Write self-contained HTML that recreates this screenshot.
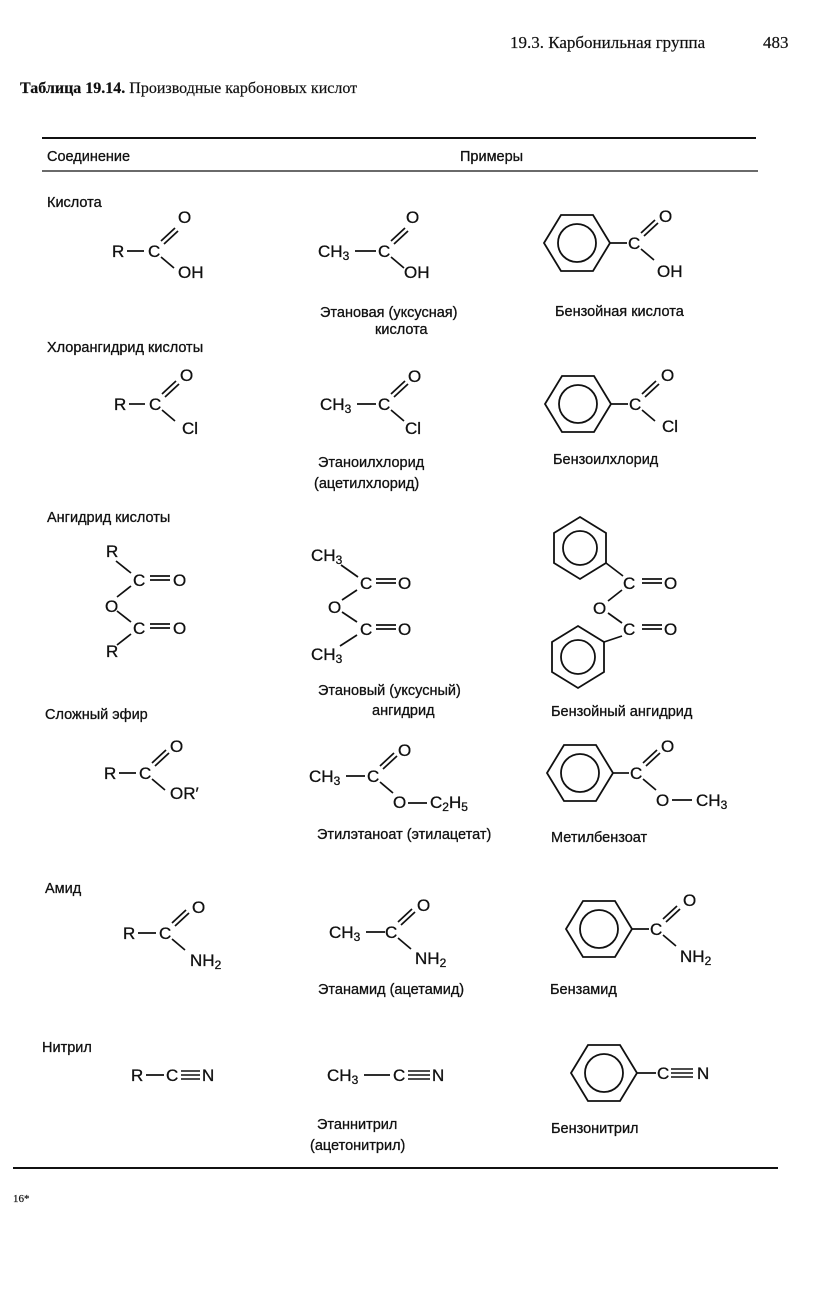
<!DOCTYPE html>
<html><head><meta charset="utf-8"><style>
html,body{margin:0;padding:0;background:#fff;}
svg{display:block;}
text{font-family:"Liberation Sans",sans-serif;fill:#111;stroke:#111;stroke-width:0.3;}
.a{font-size:17px;}
.l{font-size:14.5px;}
.s{font-family:"Liberation Serif",serif;stroke-width:0.2;}
</style></head><body>
<svg width="832" height="1300" viewBox="0 0 832 1300" xmlns="http://www.w3.org/2000/svg">
<defs>
<g id="hex" fill="none" stroke="#111" stroke-width="1.8">
<polygon points="-33,0 -16,-28 16,-28 33,0 16,28 -16,28"/>
<circle r="19"/>
</g>
<g id="hexv" fill="none" stroke="#111" stroke-width="1.8">
<polygon points="0,-31 26,-15 26,15 0,31 -26,15 -26,-15"/>
<circle r="17"/>
</g>
<g id="acyl" stroke="#111" stroke-width="1.7">
<line x1="6" y1="-9" x2="20" y2="-22"/>
<line x1="9" y1="-6" x2="23" y2="-19"/>
<line x1="6" y1="7" x2="19" y2="18"/>
</g>
</defs>

<text x="510" y="48" class="s" font-size="17">19.3. Карбонильная группа</text>
<text x="763" y="48" class="s" font-size="17">483</text>
<text x="20" y="93" class="s" font-size="16"><tspan font-weight="bold">Таблица 19.14.</tspan> Производные карбоновых кислот</text>

<line x1="42" y1="138" x2="756" y2="138" stroke="#111" stroke-width="2"/>
<text x="47" y="161" class="l">Соединение</text>
<text x="460" y="161" class="l">Примеры</text>
<line x1="42" y1="171" x2="758" y2="171" stroke="#111" stroke-width="1.3"/>

<text x="47" y="207" class="l">Кислота</text>
<text x="47" y="352" class="l">Хлорангидрид кислоты</text>
<text x="47" y="522" class="l">Ангидрид кислоты</text>
<text x="45" y="719" class="l">Сложный эфир</text>
<text x="45" y="893" class="l">Амид</text>
<text x="42" y="1052" class="l">Нитрил</text>

<!-- Row 1 -->
<text x="112" y="257" class="a">R</text><line x1="127" y1="251" x2="144" y2="251" stroke="#111" stroke-width="1.7"/>
<text x="148" y="257" class="a">C</text><use href="#acyl" x="155" y="250"/>
<text x="178" y="223" class="a">O</text><text x="178" y="278" class="a">OH</text>

<text x="318" y="257" class="a">CH<tspan font-size="12" dy="3">3</tspan></text><line x1="355" y1="251" x2="376" y2="251" stroke="#111" stroke-width="1.7"/>
<text x="378" y="257" class="a">C</text><use href="#acyl" x="385" y="250"/>
<text x="406" y="223" class="a">O</text><text x="404" y="278" class="a">OH</text>

<use href="#hex" x="577" y="243"/><line x1="610" y1="243" x2="627" y2="243" stroke="#111" stroke-width="1.7"/>
<text x="628" y="249" class="a">C</text><use href="#acyl" x="635" y="242"/>
<text x="659" y="222" class="a">O</text><text x="657" y="277" class="a">OH</text>

<text x="320" y="317" class="l">Этановая (уксусная)</text>
<text x="375" y="334" class="l">кислота</text>
<text x="555" y="316" class="l">Бензойная кислота</text>

<!-- Row 2 -->
<text x="114" y="410" class="a">R</text><line x1="129" y1="404" x2="145" y2="404" stroke="#111" stroke-width="1.7"/>
<text x="149" y="410" class="a">C</text><use href="#acyl" x="156" y="403"/>
<text x="180" y="381" class="a">O</text><text x="182" y="434" class="a">Cl</text>

<text x="320" y="410" class="a">CH<tspan font-size="12" dy="3">3</tspan></text><line x1="357" y1="404" x2="376" y2="404" stroke="#111" stroke-width="1.7"/>
<text x="378" y="410" class="a">C</text><use href="#acyl" x="385" y="403"/>
<text x="408" y="382" class="a">O</text><text x="405" y="434" class="a">Cl</text>

<use href="#hex" x="578" y="404"/><line x1="611" y1="404" x2="628" y2="404" stroke="#111" stroke-width="1.7"/>
<text x="629" y="410" class="a">C</text><use href="#acyl" x="636" y="403"/>
<text x="661" y="381" class="a">O</text><text x="662" y="432" class="a">Cl</text>

<text x="318" y="467" class="l">Этаноилхлорид</text>
<text x="314" y="488" class="l">(ацетилхлорид)</text>
<text x="553" y="464" class="l">Бензоилхлорид</text>

<!-- Row 3 -->
<g stroke="#111" stroke-width="1.7">
<line x1="116" y1="561" x2="131" y2="573"/><line x1="131" y1="586" x2="117" y2="597"/>
<line x1="117" y1="611" x2="131" y2="622"/><line x1="131" y1="634" x2="117" y2="645"/>
<line x1="150" y1="576" x2="170" y2="576"/><line x1="150" y1="580" x2="170" y2="580"/>
<line x1="150" y1="624" x2="170" y2="624"/><line x1="150" y1="628" x2="170" y2="628"/>
</g>
<text x="106" y="557" class="a">R</text><text x="133" y="586" class="a">C</text><text x="173" y="586" class="a">O</text>
<text x="105" y="612" class="a">O</text><text x="133" y="634" class="a">C</text><text x="173" y="634" class="a">O</text>
<text x="106" y="657" class="a">R</text>

<g stroke="#111" stroke-width="1.7">
<line x1="341" y1="565" x2="358" y2="577"/><line x1="357" y1="590" x2="342" y2="600"/>
<line x1="342" y1="612" x2="357" y2="622"/><line x1="357" y1="635" x2="340" y2="646"/>
<line x1="376" y1="579" x2="396" y2="579"/><line x1="376" y1="583" x2="396" y2="583"/>
<line x1="376" y1="625" x2="396" y2="625"/><line x1="376" y1="629" x2="396" y2="629"/>
</g>
<text x="311" y="561" class="a">CH<tspan font-size="12" dy="3">3</tspan></text>
<text x="360" y="589" class="a">C</text><text x="398" y="589" class="a">O</text>
<text x="328" y="613" class="a">O</text>
<text x="360" y="635" class="a">C</text><text x="398" y="635" class="a">O</text>
<text x="311" y="660" class="a">CH<tspan font-size="12" dy="3">3</tspan></text>

<use href="#hexv" x="580" y="548"/><use href="#hexv" x="578" y="657"/>
<g stroke="#111" stroke-width="1.7">
<line x1="606" y1="563" x2="623" y2="576"/><line x1="622" y1="590" x2="608" y2="601"/>
<line x1="608" y1="613" x2="622" y2="623"/><line x1="622" y1="636" x2="604" y2="642"/>
<line x1="642" y1="579" x2="662" y2="579"/><line x1="642" y1="583" x2="662" y2="583"/>
<line x1="642" y1="625" x2="662" y2="625"/><line x1="642" y1="629" x2="662" y2="629"/>
</g>
<text x="623" y="589" class="a">C</text><text x="664" y="589" class="a">O</text>
<text x="593" y="614" class="a">O</text>
<text x="623" y="635" class="a">C</text><text x="664" y="635" class="a">O</text>

<text x="318" y="695" class="l">Этановый (уксусный)</text>
<text x="372" y="715" class="l">ангидрид</text>
<text x="551" y="716" class="l">Бензойный ангидрид</text>

<!-- Row 4 -->
<text x="104" y="779" class="a">R</text><line x1="119" y1="773" x2="136" y2="773" stroke="#111" stroke-width="1.7"/>
<text x="139" y="779" class="a">C</text><use href="#acyl" x="146" y="772"/>
<text x="170" y="752" class="a">O</text><text x="170" y="799" class="a">OR′</text>

<text x="309" y="782" class="a">CH<tspan font-size="12" dy="3">3</tspan></text><line x1="346" y1="776" x2="365" y2="776" stroke="#111" stroke-width="1.7"/>
<text x="367" y="782" class="a">C</text><use href="#acyl" x="374" y="775"/>
<text x="398" y="756" class="a">O</text>
<text x="393" y="808" class="a">O</text><line x1="408" y1="803" x2="427" y2="803" stroke="#111" stroke-width="1.7"/>
<text x="430" y="808" class="a">C<tspan font-size="12" dy="3">2</tspan><tspan dy="-3">H</tspan><tspan font-size="12" dy="3">5</tspan></text>

<use href="#hex" x="580" y="773"/><line x1="613" y1="773" x2="629" y2="773" stroke="#111" stroke-width="1.7"/>
<text x="630" y="779" class="a">C</text><use href="#acyl" x="637" y="772"/>
<text x="661" y="752" class="a">O</text>
<text x="656" y="806" class="a">O</text><line x1="672" y1="800" x2="692" y2="800" stroke="#111" stroke-width="1.7"/>
<text x="696" y="806" class="a">CH<tspan font-size="12" dy="3">3</tspan></text>

<text x="317" y="839" class="l">Этилэтаноат (этилацетат)</text>
<text x="551" y="842" class="l">Метилбензоат</text>

<!-- Row 5 -->
<text x="123" y="939" class="a">R</text><line x1="138" y1="933" x2="156" y2="933" stroke="#111" stroke-width="1.7"/>
<text x="159" y="939" class="a">C</text><use href="#acyl" x="166" y="932"/>
<text x="192" y="913" class="a">O</text><text x="190" y="966" class="a">NH<tspan font-size="12" dy="3">2</tspan></text>

<text x="329" y="938" class="a">CH<tspan font-size="12" dy="3">3</tspan></text><line x1="366" y1="932" x2="385" y2="932" stroke="#111" stroke-width="1.7"/>
<text x="385" y="938" class="a">C</text><use href="#acyl" x="392" y="931"/>
<text x="417" y="911" class="a">O</text><text x="415" y="964" class="a">NH<tspan font-size="12" dy="3">2</tspan></text>

<use href="#hex" x="599" y="929"/><line x1="632" y1="929" x2="649" y2="929" stroke="#111" stroke-width="1.7"/>
<text x="650" y="935" class="a">C</text><use href="#acyl" x="657" y="928"/>
<text x="683" y="906" class="a">O</text><text x="680" y="962" class="a">NH<tspan font-size="12" dy="3">2</tspan></text>

<text x="318" y="994" class="l">Этанамид (ацетамид)</text>
<text x="550" y="994" class="l">Бензамид</text>

<!-- Row 6 -->
<text x="131" y="1081" class="a">R</text><line x1="146" y1="1075" x2="164" y2="1075" stroke="#111" stroke-width="1.7"/>
<text x="166" y="1081" class="a">C</text>
<g stroke="#111" stroke-width="1.4"><line x1="181" y1="1071" x2="200" y2="1071"/><line x1="181" y1="1075" x2="200" y2="1075"/><line x1="181" y1="1079" x2="200" y2="1079"/></g>
<text x="202" y="1081" class="a">N</text>

<text x="327" y="1081" class="a">CH<tspan font-size="12" dy="3">3</tspan></text><line x1="364" y1="1075" x2="390" y2="1075" stroke="#111" stroke-width="1.7"/>
<text x="393" y="1081" class="a">C</text>
<g stroke="#111" stroke-width="1.4"><line x1="408" y1="1071" x2="430" y2="1071"/><line x1="408" y1="1075" x2="430" y2="1075"/><line x1="408" y1="1079" x2="430" y2="1079"/></g>
<text x="432" y="1081" class="a">N</text>

<use href="#hex" x="604" y="1073"/><line x1="637" y1="1073" x2="656" y2="1073" stroke="#111" stroke-width="1.7"/>
<text x="657" y="1079" class="a">C</text>
<g stroke="#111" stroke-width="1.4"><line x1="671" y1="1069" x2="693" y2="1069"/><line x1="671" y1="1073" x2="693" y2="1073"/><line x1="671" y1="1077" x2="693" y2="1077"/></g>
<text x="697" y="1079" class="a">N</text>

<text x="317" y="1129" class="l">Этаннитрил</text>
<text x="310" y="1150" class="l">(ацетонитрил)</text>
<text x="551" y="1133" class="l">Бензонитрил</text>

<line x1="13" y1="1168" x2="778" y2="1168" stroke="#111" stroke-width="2"/>
<text x="13" y="1202" class="s" font-size="11">16*</text>
</svg>
</body></html>
